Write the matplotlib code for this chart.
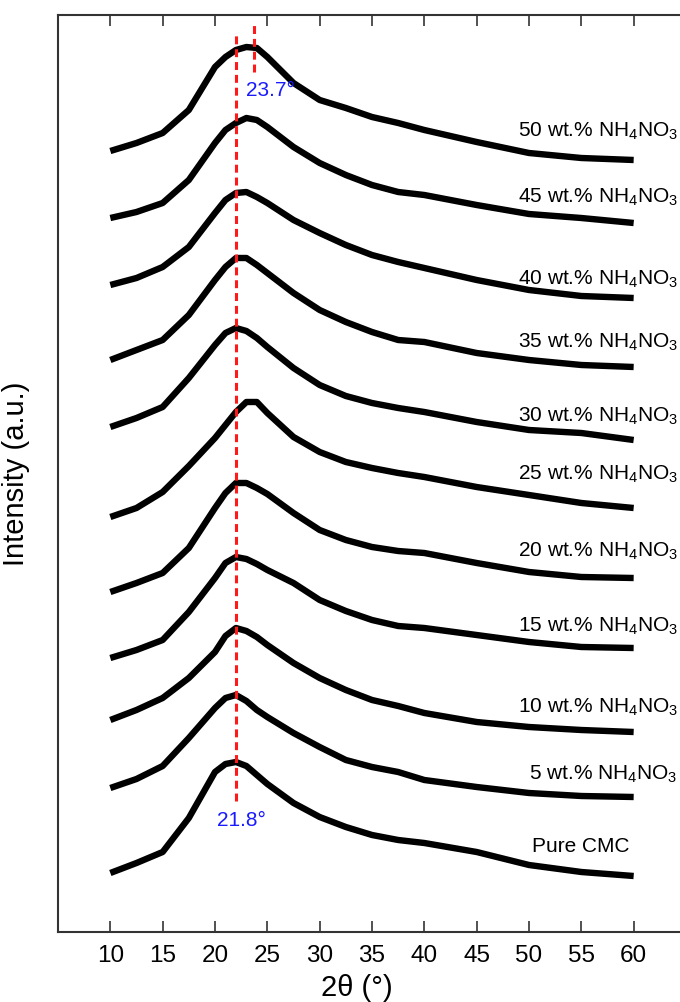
#!/usr/bin/env python3
"""XRD patterns of CMC films with increasing NH4NO3 content (stacked)."""

import matplotlib

matplotlib.use("Agg")
import matplotlib.pyplot as plt

two_theta = [10, 12.5, 15, 17.5, 20, 21, 22, 23, 24, 25,
             27.5, 30, 32.5, 35, 37.5, 40, 45, 50, 55, 60]

# stacked (offset) intensities, a.u., bottom curve first
pure_cmc = [59, 69, 80, 114, 160, 168, 170, 166, 157, 148,
            129, 115, 105, 97, 92, 89, 80, 67, 60, 56]
nh4no3_5 = [144, 153, 166, 194, 224, 234, 237, 231, 222, 215,
            199, 185, 172, 165, 160, 152, 145, 139, 136, 135]
nh4no3_10 = [212, 222, 234, 254, 280, 296, 304, 301, 295, 287,
             269, 254, 242, 232, 226, 219, 210, 205, 202, 200]
nh4no3_15 = [274, 282, 292, 320, 354, 369, 375, 373, 368, 362,
             349, 332, 321, 312, 306, 304, 297, 290, 285, 284]
nh4no3_20 = [340, 349, 359, 384, 424, 439, 449, 449, 444, 438,
             419, 402, 392, 385, 381, 379, 369, 360, 355, 354]
nh4no3_25 = [415, 424, 440, 466, 494, 507, 520, 530, 530, 519,
             495, 480, 470, 464, 459, 455, 445, 437, 429, 424]
nh4no3_30 = [505, 514, 525, 554, 587, 599, 604, 601, 594, 585,
             564, 547, 536, 529, 524, 520, 510, 502, 499, 492]
nh4no3_35 = [572, 582, 592, 617, 652, 665, 674, 674, 667, 659,
             639, 622, 610, 600, 592, 590, 579, 572, 567, 565]
nh4no3_40 = [647, 654, 665, 685, 719, 732, 739, 740, 735, 729,
             712, 699, 687, 677, 670, 664, 652, 642, 636, 634]
nh4no3_45 = [714, 720, 729, 752, 789, 802, 809, 814, 812, 805,
             785, 769, 757, 747, 740, 737, 727, 718, 714, 709]
nh4no3_50 = [781, 789, 799, 822, 865, 875, 882, 885, 884, 875,
             849, 832, 824, 815, 809, 802, 790, 779, 774, 772]

curves = [pure_cmc, nh4no3_5, nh4no3_10, nh4no3_15, nh4no3_20, nh4no3_25,
          nh4no3_30, nh4no3_35, nh4no3_40, nh4no3_45, nh4no3_50]
wt_percent = [5, 10, 15, 20, 25, 30, 35, 40, 45, 50]

# peak markers
peak_low = 21.8
peak_high = 23.7

# label baselines (same y units as the curves)
label_baselines = [80, 152, 219, 300, 375, 452, 510, 584, 647, 729, 795]

plt.rcParams["font.family"] = ["Liberation Sans", "DejaVu Sans"]
plt.rcParams["mathtext.fontset"] = "custom"
plt.rcParams["mathtext.rm"] = "Liberation Sans"
plt.rcParams["mathtext.it"] = "Liberation Sans:italic"
plt.rcParams["mathtext.bf"] = "Liberation Sans:bold"

fig = plt.figure(figsize=(6.8, 10.02), dpi=100)
ax = fig.add_axes([58 / 680, 70 / 1002, 628 / 680, 917 / 1002])

for values in curves:
    ax.plot(two_theta, values, color="black", linewidth=4.6,
            solid_joinstyle="round", solid_capstyle="butt")

# dashed peak guides
ax.plot([22.0, 22.0], [131, 900], color="#ff1a1a", linewidth=2.2,
        dashes=(2.6, 1.6))
ax.plot([peak_high, peak_high], [860, 907], color="#ff1a1a", linewidth=2.2,
        dashes=(2.6, 1.6))
ax.text(25.3, 842, f"{peak_high}°", color="#1a1aff", fontsize=15,
        ha="center", va="center")
ax.text(22.5, 112, f"{peak_low}°", color="#1a1aff", fontsize=15,
        ha="center", va="center")

ax.text(50.3, label_baselines[0], "Pure CMC", fontsize=15, ha="left",
        va="baseline")
for wt, base in zip(wt_percent, label_baselines[1:]):
    ax.text(64.2, base, f"{wt} wt.% NH$_4$NO$_3$", fontsize=15, ha="right",
            va="baseline")

ax.set_xlim(5, 65)
ax.set_ylim(0, 917)
ax.set_xticks(range(10, 61, 5))
ax.set_yticks([])
ax.tick_params(axis="x", direction="in", top=True, length=8, width=1.2,
               labelsize=17.5, pad=9, color="#333333")
for spine in ax.spines.values():
    spine.set_linewidth(1.5)
    spine.set_color("#333333")

ax.set_ylabel("Intensity (a.u.)", fontsize=21)
ax.yaxis.set_label_coords(-28 / 628, 0.5)
fig.text(357 / 680, 1 - 988 / 1002, "2θ (°)", fontsize=21, ha="center",
         va="center")

fig.savefig("out.png", dpi=100)
